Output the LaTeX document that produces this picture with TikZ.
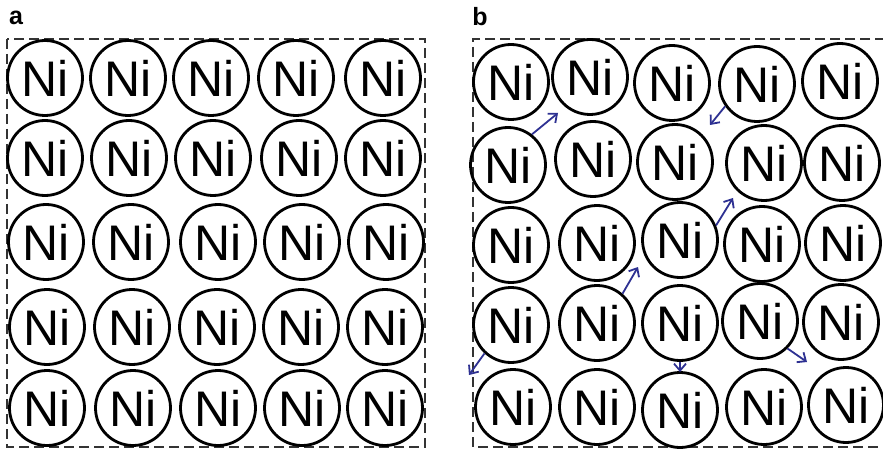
\documentclass[tikz,border=0pt]{standalone}
\usepackage{fontspec}
\setmainfont{Liberation Sans}
\usetikzlibrary{arrows.meta}
\definecolor{arrowblue}{HTML}{2E3192}
\definecolor{framegray}{HTML}{333333}
\tikzset{
  atom/.style={circle, draw=black, line width=2.8pt, minimum size=75pt, inner sep=0pt,
    font=\fontsize{50}{50}\selectfont},
  frame/.style={draw=framegray, line width=1.9pt, dash pattern=on 10pt off 5pt},
  hop/.style={draw=arrowblue, line width=1.8pt, -{Straight Barb[length=7pt,width=12pt,line width=1.8pt]}},
  panellabel/.style={font=\bfseries\fontsize{25}{25}\selectfont, inner sep=0pt}
}
\begin{document}
\begin{tikzpicture}[x=1pt,y=-1pt]
\useasboundingbox (0,0) rectangle (883,449);
\fill[white] (0,0) rectangle (883,449);
% frames
\draw[frame] (7,39) rectangle (425,447);
\draw[frame] (885,39) -- (473,39) -- (473,447) -- (885,447);
% labels
\node[panellabel] (la) at (16,18) {a};
\node[panellabel] (lb) at (480,17) {b};
% panel a
\node[atom] (a11) at (45,78) {Ni};
\node[atom] (a12) at (128,78) {Ni};
\node[atom] (a13) at (211,78) {Ni};
\node[atom] (a14) at (296,78) {Ni};
\node[atom] (a15) at (383,78) {Ni};
\node[atom] (a21) at (45,158) {Ni};
\node[atom] (a22) at (129,158) {Ni};
\node[atom] (a23) at (213,158) {Ni};
\node[atom] (a24) at (299,158) {Ni};
\node[atom] (a25) at (383,158) {Ni};
\node[atom] (a31) at (46,242) {Ni};
\node[atom] (a32) at (131,242) {Ni};
\node[atom] (a33) at (218,242) {Ni};
\node[atom] (a34) at (302,242) {Ni};
\node[atom] (a35) at (386,242) {Ni};
\node[atom] (a41) at (47,327) {Ni};
\node[atom] (a42) at (132,327) {Ni};
\node[atom] (a43) at (217,327) {Ni};
\node[atom] (a44) at (301,327) {Ni};
\node[atom] (a45) at (385,327) {Ni};
\node[atom] (a51) at (47,408) {Ni};
\node[atom] (a52) at (133,408) {Ni};
\node[atom] (a53) at (218,408) {Ni};
\node[atom] (a54) at (302,408) {Ni};
\node[atom] (a55) at (385,408) {Ni};
% panel b
\node[atom] (b11) at (511,82) {Ni};
\node[atom] (b12) at (590,77) {Ni};
\node[atom] (b13) at (672,83) {Ni};
\node[atom] (b14) at (757,84) {Ni};
\node[atom] (b15) at (840,81) {Ni};
\node[atom] (b21) at (508,165) {Ni};
\node[atom] (b22) at (593,159) {Ni};
\node[atom] (b23) at (675,162) {Ni};
\node[atom] (b24) at (764,163) {Ni};
\node[atom] (b25) at (842,163) {Ni};
\node[atom] (b31) at (511,245) {Ni};
\node[atom] (b32) at (597,243) {Ni};
\node[atom] (b33) at (680,240) {Ni};
\node[atom] (b34) at (762,244) {Ni};
\node[atom] (b35) at (843,243) {Ni};
\node[atom] (b41) at (511,325) {Ni};
\node[atom] (b42) at (597,323) {Ni};
\node[atom] (b43) at (680,323) {Ni};
\node[atom] (b44) at (760,321) {Ni};
\node[atom] (b45) at (841,322) {Ni};
\node[atom] (b51) at (513,407) {Ni};
\node[atom] (b52) at (597,407) {Ni};
\node[atom] (b53) at (680,410) {Ni};
\node[atom] (b54) at (764,407) {Ni};
\node[atom] (b55) at (846,405) {Ni};
% arrow ends
\coordinate (e1) at (558,113);
\coordinate (e2) at (710,125);
\coordinate (e3) at (733,198);
\coordinate (e4) at (638,267);
\coordinate (e5) at (469,375);
\coordinate (e6) at (680,372);
\coordinate (e7) at (807,362);
\draw[hop] (b21.52) -- (e1);
\draw[hop] (b14.215) -- (e2);
\draw[hop] (b33.22) -- (e3);
\draw[hop] (b42.49) -- (e4);
\draw[hop] (b41.227) -- (e5);
\draw[hop] (b43.south) -- (e6);
\draw[hop] (b44.315) -- (e7);
\end{tikzpicture}
\end{document}
